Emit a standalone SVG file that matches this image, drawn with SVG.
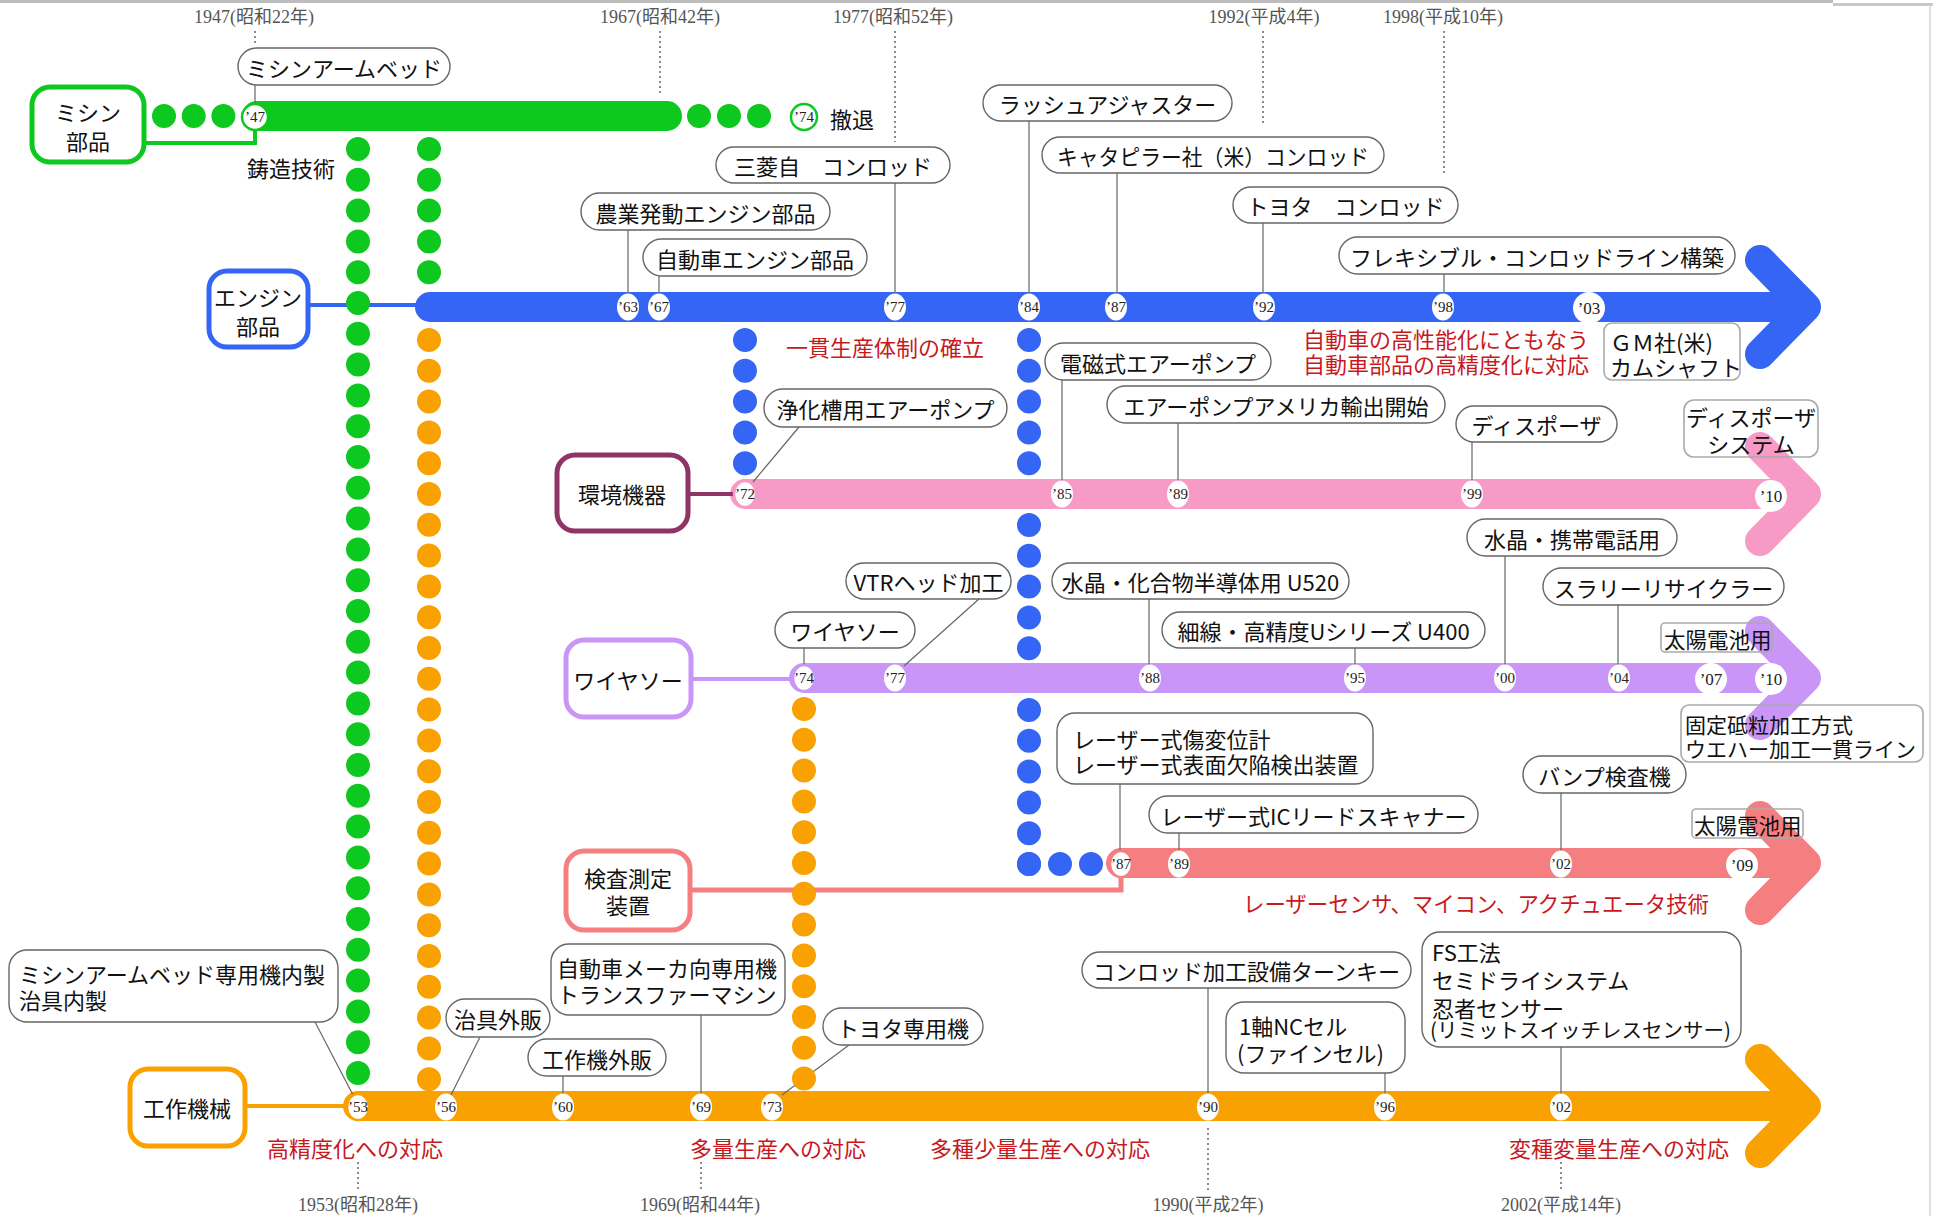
<svg xmlns="http://www.w3.org/2000/svg" width="1933" height="1216" viewBox="0 0 1933 1216">
<defs>
<style>
text{font-family:"Noto Sans CJK JP","Noto Sans",sans-serif;font-size:22px;fill:#111;dominant-baseline:central}
.yr{font-family:"Liberation Serif","Noto Sans CJK JP",serif;font-size:18px;fill:#555;text-anchor:middle}
.mk{font-family:"Liberation Serif",serif;font-size:15px;text-anchor:middle;fill:#222}
.mkb{font-family:"Liberation Serif",serif;font-size:17px;text-anchor:middle;fill:#222}
.red{fill:#c8191e}
.c{text-anchor:middle}
.bub{fill:#fff;stroke:#666;stroke-width:1.4}
.box{fill:none;stroke:#aaa;stroke-width:1.6}
.lead{stroke:#666;stroke-width:1.2;fill:none}
.dt{stroke:#666;stroke-width:1.5;stroke-dasharray:2 3;fill:none}
.node{fill:#fff;stroke-width:5}
.band{fill:none;stroke-width:30;stroke-linecap:round;stroke-linejoin:round}
.dots{fill:none;stroke-width:24;stroke-linecap:round;stroke-dasharray:0 30.8}
.mkr{fill:#fff}
.g{stroke:#0cc81f}.b{stroke:#3465f4}.p{stroke:#f79ac6}.v{stroke:#c995f7}.s{stroke:#f57f80}.o{stroke:#f8a100}.m{stroke:#8f3464}
</style>
</defs>
<rect x="0" y="0" width="1933" height="1216" fill="#fff"/>
<rect x="0" y="0" width="1833" height="3" fill="#bdbdbd"/>
<rect x="1833" y="3" width="100" height="3" fill="#c8c8c8"/>
<line x1="1930" y1="5" x2="1930" y2="1216" stroke="#d6d6d6" stroke-width="1.5"/>

<g id="guides">
<text class="yr" x="254" y="17">1947(昭和22年)</text>
<text class="yr" x="660" y="17">1967(昭和42年)</text>
<text class="yr" x="893" y="17">1977(昭和52年)</text>
<text class="yr" x="1264" y="17">1992(平成4年)</text>
<text class="yr" x="1443" y="17">1998(平成10年)</text>
<text class="yr" x="358" y="1205">1953(昭和28年)</text>
<text class="yr" x="700" y="1205">1969(昭和44年)</text>
<text class="yr" x="1208" y="1205">1990(平成2年)</text>
<text class="yr" x="1561" y="1205">2002(平成14年)</text>
<path class="dt" d="M255 31V45M660 31V94M895 31V142M1263 31V124M1444 31V175M358 1162V1190M701 1162V1190M1208 1128V1190M1561 1162V1190"/>
</g>

<g id="bands">
<path class="band g" d="M257 116H667"/>
<path class="band b" d="M430 307H1806M1760 260L1806 307L1760 354"/>
<path class="band p" d="M745 494H1806M1760 447L1806 494L1760 541"/>
<path class="band v" d="M804 678H1806M1760 631L1806 678L1760 725"/>
<path class="band s" d="M1121 863H1806M1760 816L1806 863L1760 910"/>
<path class="band o" d="M358 1106H1806M1760 1059L1806 1106L1760 1153"/>
</g>

<g id="connectors">
<path fill="none" stroke-width="4" class="g" d="M144 143H255V130"/>
<path fill="none" stroke-width="4" class="b" d="M308 305H420"/>
<path fill="none" stroke-width="4" class="m" d="M688 494H733"/>
<path fill="none" stroke-width="4" class="v" d="M691 679H792"/>
<path fill="none" stroke-width="5" class="s" d="M690 890H1121V876"/>
<path fill="none" stroke-width="4" class="o" d="M245 1106H345"/>
<path class="lead" d="M255 85V104M628 230V295M659 276V295M895 183V295M1029 121V295M1117 173V295M1263 223V295M1444 274V295"/>
<path class="lead" d="M799 427L753 482M1062 380V482M1178 423V482M1472 442V482"/>
<path class="lead" d="M979 599L904 666M804 648V666M1149 599V666M1355 648V666M1505 556V666M1618 605V666"/>
<path class="lead" d="M1120 784V851M1179 833V851M1561 793V851"/>
<path class="lead" d="M315 1022L353 1095M480 1037L451 1095M563 1076V1094M701 1015V1094M849 1045L782 1095M1208 988V1094M1385 1073V1094M1561 1047V1094"/>
</g>

<g id="dots">
<path class="dots g" d="M164 116H224.5" style="stroke-dasharray:0 29.7"/>
<path class="dots g" d="M699 116H759.5" style="stroke-dasharray:0 30"/>
<path class="dots g" d="M358 149V1073.5"/>
<path class="dots g" d="M429 149V272.7"/>
<path class="dots o" d="M429 340V1079.7"/>
<path class="dots b" d="M745 340V463.7"/>
<path class="dots b" d="M1029 340V463.7M1029 525V648.7M1029 710V864.5"/>
<path class="dots b" d="M1029 864H1091.6" style="stroke-dasharray:0 31"/>
<path class="dots o" d="M804 709V1079"/>
</g>

<g id="markers">
<circle cx="255" cy="117" r="13" class="mkr g" stroke-width="2.5"/><text class="mk" x="255" y="117">’47</text>
<circle cx="804" cy="117" r="13" class="mkr g" stroke-width="2.5"/><text class="mk" x="804" y="117">’74</text>
<g>
<ellipse class="mkr" cx="628" cy="307" rx="11" ry="13.5"/><text class="mk" x="628" y="307">’63</text>
<ellipse class="mkr" cx="659" cy="307" rx="11" ry="13.5"/><text class="mk" x="659" y="307">’67</text>
<ellipse class="mkr" cx="895" cy="307" rx="11" ry="13.5"/><text class="mk" x="895" y="307">’77</text>
<ellipse class="mkr" cx="1029" cy="307" rx="11" ry="13.5"/><text class="mk" x="1029" y="307">’84</text>
<ellipse class="mkr" cx="1116" cy="307" rx="11" ry="13.5"/><text class="mk" x="1116" y="307">’87</text>
<ellipse class="mkr" cx="1264" cy="307" rx="11" ry="13.5"/><text class="mk" x="1264" y="307">’92</text>
<ellipse class="mkr" cx="1443" cy="307" rx="11" ry="13.5"/><text class="mk" x="1443" y="307">’98</text>
<circle class="mkr" cx="1589" cy="308" r="16"/><text class="mkb" x="1589" y="308">’03</text>
</g>
<g>
<ellipse cx="745" cy="494" rx="11" ry="13" class="mkr p" stroke-width="2.5"/><text class="mk" x="745" y="494">’72</text>
<ellipse class="mkr" cx="1062" cy="494" rx="11" ry="13.5"/><text class="mk" x="1062" y="494">’85</text>
<ellipse class="mkr" cx="1178" cy="494" rx="11" ry="13.5"/><text class="mk" x="1178" y="494">’89</text>
<ellipse class="mkr" cx="1472" cy="494" rx="11" ry="13.5"/><text class="mk" x="1472" y="494">’99</text>
<circle class="mkr" cx="1771" cy="496" r="16"/><text class="mkb" x="1771" y="496">’10</text>
</g>
<g>
<ellipse cx="804" cy="678" rx="11" ry="13" class="mkr v" stroke-width="2.5"/><text class="mk" x="804" y="678">’74</text>
<ellipse class="mkr" cx="895" cy="678" rx="11" ry="13.5"/><text class="mk" x="895" y="678">’77</text>
<ellipse class="mkr" cx="1150" cy="678" rx="11" ry="13.5"/><text class="mk" x="1150" y="678">’88</text>
<ellipse class="mkr" cx="1355" cy="678" rx="11" ry="13.5"/><text class="mk" x="1355" y="678">’95</text>
<ellipse class="mkr" cx="1505" cy="678" rx="11" ry="13.5"/><text class="mk" x="1505" y="678">’00</text>
<ellipse class="mkr" cx="1619" cy="678" rx="11" ry="13.5"/><text class="mk" x="1619" y="678">’04</text>
<circle class="mkr" cx="1711" cy="679" r="16"/><text class="mkb" x="1711" y="679">’07</text>
<circle class="mkr" cx="1771" cy="679" r="16"/><text class="mkb" x="1771" y="679">’10</text>
</g>
<g>
<ellipse cx="1121" cy="864" rx="11" ry="13" class="mkr s" stroke-width="2.5"/><text class="mk" x="1121" y="864">’87</text>
<ellipse class="mkr" cx="1179" cy="864" rx="11" ry="13.5"/><text class="mk" x="1179" y="864">’89</text>
<ellipse class="mkr" cx="1561" cy="864" rx="11" ry="13.5"/><text class="mk" x="1561" y="864">’02</text>
<circle class="mkr" cx="1742" cy="865" r="16"/><text class="mkb" x="1742" y="865">’09</text>
</g>
<g>
<ellipse cx="358" cy="1107" rx="11" ry="13" class="mkr o" stroke-width="2.5"/><text class="mk" x="358" y="1107">’53</text>
<ellipse class="mkr" cx="446" cy="1107" rx="11" ry="13.5"/><text class="mk" x="446" y="1107">’56</text>
<ellipse class="mkr" cx="563" cy="1107" rx="11" ry="13.5"/><text class="mk" x="563" y="1107">’60</text>
<ellipse class="mkr" cx="701" cy="1107" rx="11" ry="13.5"/><text class="mk" x="701" y="1107">’69</text>
<ellipse class="mkr" cx="772" cy="1107" rx="11" ry="13.5"/><text class="mk" x="772" y="1107">’73</text>
<ellipse class="mkr" cx="1208" cy="1107" rx="11" ry="13.5"/><text class="mk" x="1208" y="1107">’90</text>
<ellipse class="mkr" cx="1385" cy="1107" rx="11" ry="13.5"/><text class="mk" x="1385" y="1107">’96</text>
<ellipse class="mkr" cx="1561" cy="1107" rx="11" ry="13.5"/><text class="mk" x="1561" y="1107">’02</text>
</g>
</g>

<g id="node-mishin"><rect class="node g" x="32" y="87" width="112" height="75" rx="18"/><text class="c" x="88" y="111">ミシン<tspan x="88" dy="29">部品</tspan></text></g>
<g id="node-engine"><rect class="node b" x="209" y="271" width="99" height="76" rx="18"/><text class="c" x="258" y="296">エンジン<tspan x="258" dy="29">部品</tspan></text></g>
<g id="node-kankyo"><rect class="node m" x="557" y="455" width="131" height="76" rx="18"/><text class="c" x="622" y="493">環境機器</text></g>
<g id="node-wiresaw"><rect class="node v" x="566" y="640" width="125" height="77" rx="18"/><text class="c" x="628" y="679">ワイヤソー</text></g>
<g id="node-kensa"><rect class="node s" x="566" y="851" width="124" height="79" rx="18"/><text class="c" x="628" y="877">検査測定<tspan x="628" dy="27">装置</tspan></text></g>
<g id="node-kosaku"><rect class="node o" x="130" y="1069" width="115" height="77" rx="18"/><text class="c" x="187" y="1107">工作機械</text></g>

<g id="labels">
<text x="247" y="167">鋳造技術</text>
<text x="830" y="118">撤退</text>
<text class="red" x="786" y="346">一貫生産体制の確立</text>
<text class="red" x="1303" y="338">自動車の高性能化にともなう<tspan x="1303" dy="25">自動車部品の高精度化に対応</tspan></text>
<text class="red" x="1243" y="902" textLength="466" lengthAdjust="spacingAndGlyphs">レーザーセンサ、マイコン、アクチュエータ技術</text>
<text class="red" x="267" y="1147">高精度化への対応</text>
<text class="red" x="690" y="1147">多量生産への対応</text>
<text class="red" x="930" y="1147">多種少量生産への対応</text>
<text class="red" x="1509" y="1147">変種変量生産への対応</text>
</g>

<g id="b1"><rect class="bub" x="238" y="48" width="212" height="37" rx="18.5"/><text class="c" x="344" y="66.5">ミシンアームベッド</text></g>
<g id="b2"><rect class="bub" x="581" y="193" width="249" height="37" rx="18.5"/><text class="c" x="705.5" y="211.5">農業発動エンジン部品</text></g>
<g id="b3"><rect class="bub" x="643" y="239" width="224" height="37" rx="18.5"/><text class="c" x="755" y="257.5">自動車エンジン部品</text></g>
<g id="b4"><rect class="bub" x="716" y="147" width="234" height="36" rx="18"/><text class="c" x="833" y="165">三菱自　コンロッド</text></g>
<g id="b5"><rect class="bub" x="983" y="85" width="249" height="36" rx="18"/><text class="c" x="1107.5" y="103">ラッシュアジャスター</text></g>
<g id="b6"><rect class="bub" x="1042" y="137" width="342" height="36" rx="18"/><text class="c" x="1213" y="155" textLength="312" lengthAdjust="spacingAndGlyphs">キャタピラー社（米）コンロッド</text></g>
<g id="b7"><rect class="bub" x="1233" y="187" width="225" height="36" rx="18"/><text class="c" x="1345.5" y="205">トヨタ　コンロッド</text></g>
<g id="b8"><rect class="bub" x="1339" y="237" width="396" height="37" rx="18.5"/><text class="c" x="1537" y="255.5">フレキシブル・コンロッドライン構築</text></g>
<g id="b9"><rect class="bub" x="764" y="389" width="243" height="38" rx="19"/><text class="c" x="885.5" y="408">浄化槽用エアーポンプ</text></g>
<g id="b10"><rect class="bub" x="1045" y="343" width="226" height="37" rx="18.5"/><text class="c" x="1158" y="361.5">電磁式エアーポンプ</text></g>
<g id="b11"><rect class="bub" x="1107" y="386" width="338" height="37" rx="18.5"/><text class="c" x="1276" y="404.5">エアーポンプアメリカ輸出開始</text></g>
<g id="b12"><rect class="bub" x="1456" y="406" width="161" height="36" rx="18"/><text class="c" x="1536.5" y="424">ディスポーザ</text></g>
<g id="b13"><rect class="bub" x="846" y="563" width="165" height="36" rx="18"/><text class="c" x="928.5" y="581">VTRヘッド加工</text></g>
<g id="b14"><rect class="bub" x="775" y="612" width="140" height="36" rx="18"/><text class="c" x="845" y="630">ワイヤソー</text></g>
<g id="b15"><rect class="bub" x="1052" y="563" width="297" height="36" rx="18"/><text class="c" x="1200.5" y="581">水晶・化合物半導体用 U520</text></g>
<g id="b16"><rect class="bub" x="1162" y="612" width="323" height="36" rx="18"/><text class="c" x="1323.5" y="630">細線・高精度Uシリーズ U400</text></g>
<g id="b17"><rect class="bub" x="1467" y="519" width="210" height="37" rx="18.5"/><text class="c" x="1572" y="537.5">水晶・携帯電話用</text></g>
<g id="b18"><rect class="bub" x="1543" y="568" width="241" height="37" rx="18.5"/><text class="c" x="1663.5" y="586.5">スラリーリサイクラー</text></g>
<g id="b19"><rect class="bub" x="1057" y="713" width="316" height="71" rx="18"/><text x="1073" y="738">レーザー式傷変位計<tspan x="1073" dy="25">レーザー式表面欠陥検出装置</tspan></text></g>
<g id="b20"><rect class="bub" x="1149" y="796" width="329" height="37" rx="18.5"/><text class="c" x="1313.5" y="814.5">レーザー式ICリードスキャナー</text></g>
<g id="b21"><rect class="bub" x="1523" y="756" width="163" height="37" rx="18.5"/><text class="c" x="1604.5" y="774.5">バンプ検査機</text></g>
<g id="b22"><rect class="bub" x="1082" y="952" width="329" height="36" rx="18"/><text class="c" x="1246.5" y="970">コンロッド加工設備ターンキー</text></g>
<g id="b23"><rect class="bub" x="1226" y="1002" width="179" height="71" rx="18"/><text x="1239" y="1025">1軸NCセル<tspan x="1237" dy="27">(ファインセル)</tspan></text></g>
<g id="b24"><rect class="bub" x="1422" y="932" width="319" height="115" rx="18"/><text x="1432" y="951">FS工法<tspan x="1432" dy="28">セミドライシステム</tspan><tspan x="1432" dy="28">忍者センサー</tspan><tspan x="1430" dy="22" style="font-size:20.5px">(リミットスイッチレスセンサー)</tspan></text></g>
<g id="b25"><rect class="bub" x="9" y="950" width="329" height="72" rx="18"/><text x="19" y="973">ミシンアームベッド専用機内製<tspan x="19" dy="26">治具内製</tspan></text></g>
<g id="b26"><rect class="bub" x="551" y="944" width="234" height="71" rx="18"/><text x="557" y="967">自動車メーカ向専用機<tspan x="557" dy="26">トランスファーマシン</tspan></text></g>
<g id="b27"><rect class="bub" x="446" y="999" width="104" height="38" rx="19"/><text class="c" x="498" y="1018">治具外販</text></g>
<g id="b28"><rect class="bub" x="528" y="1039" width="138" height="37" rx="18.5"/><text class="c" x="597" y="1057.5">工作機外販</text></g>
<g id="b29"><rect class="bub" x="823" y="1008" width="160" height="37" rx="18.5"/><text class="c" x="903" y="1026.5">トヨタ専用機</text></g>

<g id="n-gm"><rect class="box" x="1604" y="323" width="136" height="57" rx="8" style="fill:#fff"/><text x="1610" y="341">ＧＭ社(米)<tspan x="1610" dy="25">カムシャフト</tspan></text></g>
<g id="n-disposer"><rect class="box" x="1684" y="400" width="134" height="57" rx="10"/><text class="c" x="1751" y="416">ディスポーザ<tspan x="1751" dy="27">システム</tspan></text></g>
<g id="n-solar1"><rect class="box" x="1661" y="623" width="111" height="29" rx="4"/><text x="1664" y="638" style="font-size:21.5px">太陽電池用</text></g>
<g id="n-kotei"><rect class="box" x="1681" y="705" width="242" height="57" rx="8"/><text x="1685" y="724" style="font-size:21px">固定砥粒加工方式<tspan x="1685" dy="24">ウエハー加工一貫ライン</tspan></text></g>
<g id="n-solar2"><rect class="box" x="1692" y="809" width="111" height="29" rx="4"/><text x="1694" y="824" style="font-size:21.5px">太陽電池用</text></g>
</svg>
